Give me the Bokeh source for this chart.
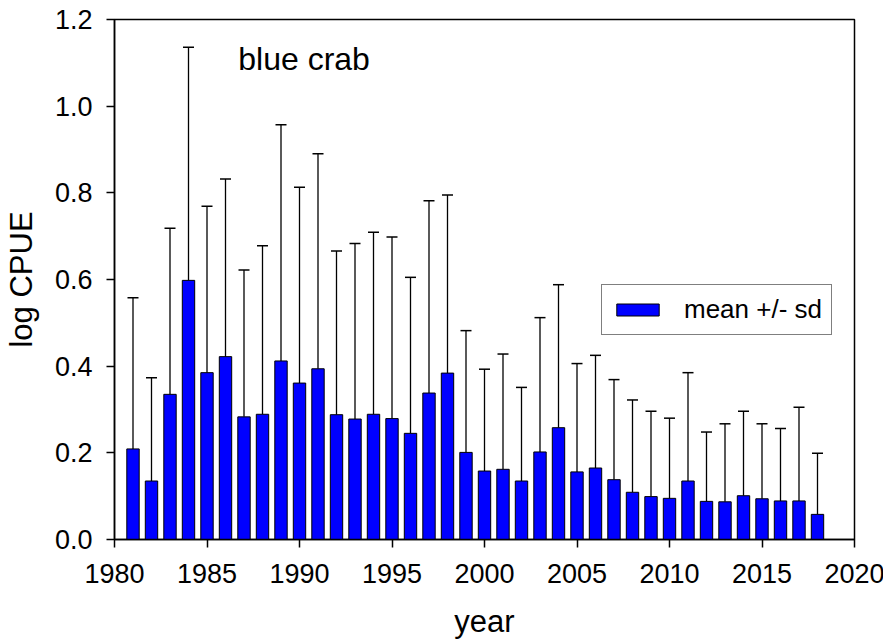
import numpy as np
from bokeh.plotting import figure
from bokeh.models import (Range1d, FixedTicker, NumeralTickFormatter, Label,
                          Legend, LegendItem, ColumnDataSource)
from bokeh.embed import file_html
from bokeh.resources import INLINE

# ---- data ----
years = list(range(1981, 2019))
mean = [0.209, 0.135, 0.335, 0.598, 0.385, 0.422, 0.283, 0.289, 0.412, 0.361,
        0.394, 0.288, 0.278, 0.289, 0.279, 0.245, 0.338, 0.384, 0.201, 0.158,
        0.162, 0.135, 0.202, 0.258, 0.156, 0.165, 0.138, 0.109, 0.099, 0.095,
        0.135, 0.088, 0.087, 0.101, 0.094, 0.089, 0.089, 0.058]
upper = [0.558, 0.373, 0.718, 1.136, 0.769, 0.832, 0.622, 0.678, 0.957, 0.813,
         0.890, 0.666, 0.683, 0.709, 0.698, 0.605, 0.782, 0.795, 0.482, 0.393,
         0.428, 0.351, 0.512, 0.588, 0.406, 0.425, 0.369, 0.322, 0.296, 0.280,
         0.385, 0.248, 0.267, 0.296, 0.267, 0.256, 0.305, 0.199]
sd = [round(u - m, 3) for u, m in zip(upper, mean)]
x_ticks = [1980, 1985, 1990, 1995, 2000, 2005, 2010, 2015, 2020]
y_ticks = [0.0, 0.2, 0.4, 0.6, 0.8, 1.0, 1.2]
series_label = "mean +/- sd"
species = "blue crab"

FONT = "Liberation Sans"

src = ColumnDataSource(dict(
    x=years, mean=mean,
    top=[m + s for m, s in zip(mean, sd)],
))

p = figure(frame_width=740, frame_height=520,
           min_border_left=111, min_border_right=30,
           min_border_top=19, min_border_bottom=100,
           x_range=Range1d(1980, 2020), y_range=Range1d(0, 1.2),
           output_backend="svg", toolbar_location=None)

p.background_fill_color = "white"
p.border_fill_color = "white"
p.outline_line_color = "black"
p.outline_line_width = 1.5
p.xgrid.visible = False
p.ygrid.visible = False

# error bars (upper only)
p.segment(x0="x", y0="mean", x1="x", y1="top", source=src,
          line_color="black", line_width=1.3)
p.scatter(x="x", y="top", source=src, marker="dash", size=11,
          line_color="black", line_width=1.5)

bars = p.vbar(x="x", top="mean", bottom=0, width=0.67, source=src,
              fill_color="#0000FF", line_color="black", line_width=1)

for ax in (p.xaxis[0], p.yaxis[0]):
    ax.axis_line_width = 1.5
    ax.axis_line_color = "black"
    ax.major_tick_line_width = 1.5
    ax.major_tick_line_color = "black"
    ax.major_tick_out = 8
    ax.major_tick_in = 0
    ax.minor_tick_out = 0
    ax.minor_tick_in = 0
    ax.major_label_text_font = FONT
    ax.major_label_text_font_size = "27px"
    ax.major_label_text_color = "black"
    ax.axis_label_text_font = FONT
    ax.axis_label_text_font_size = "31px"
    ax.axis_label_text_font_style = "normal"
    ax.axis_label_text_color = "black"

p.xaxis.ticker = FixedTicker(ticks=x_ticks)
p.yaxis.ticker = FixedTicker(ticks=y_ticks)
p.yaxis.formatter = NumeralTickFormatter(format="0.0")
p.xaxis.axis_label = "year"
p.yaxis.axis_label = "log CPUE"
p.xaxis.major_label_standoff = 16
p.yaxis.major_label_standoff = 14
p.xaxis.axis_label_standoff = 18
p.yaxis.axis_label_standoff = 13

p.add_layout(Label(x=1986.69, y=1.109, text=species, text_font=FONT,
                   text_font_size="32px", text_color="black",
                   text_baseline="middle"))

legend = Legend(items=[LegendItem(label=series_label, renderers=[bars])],
                location=(487, 204), orientation="vertical",
                glyph_width=53, glyph_height=15, label_standoff=20,
                padding=9, margin=0, spacing=0,
                label_text_font=FONT, label_text_font_size="26px",
                label_text_color="black",
                border_line_color="black", border_line_width=1.2,
                background_fill_color="white", background_fill_alpha=1)
p.add_layout(legend, "center")

open("out.html", "w").write(file_html(p, INLINE))
